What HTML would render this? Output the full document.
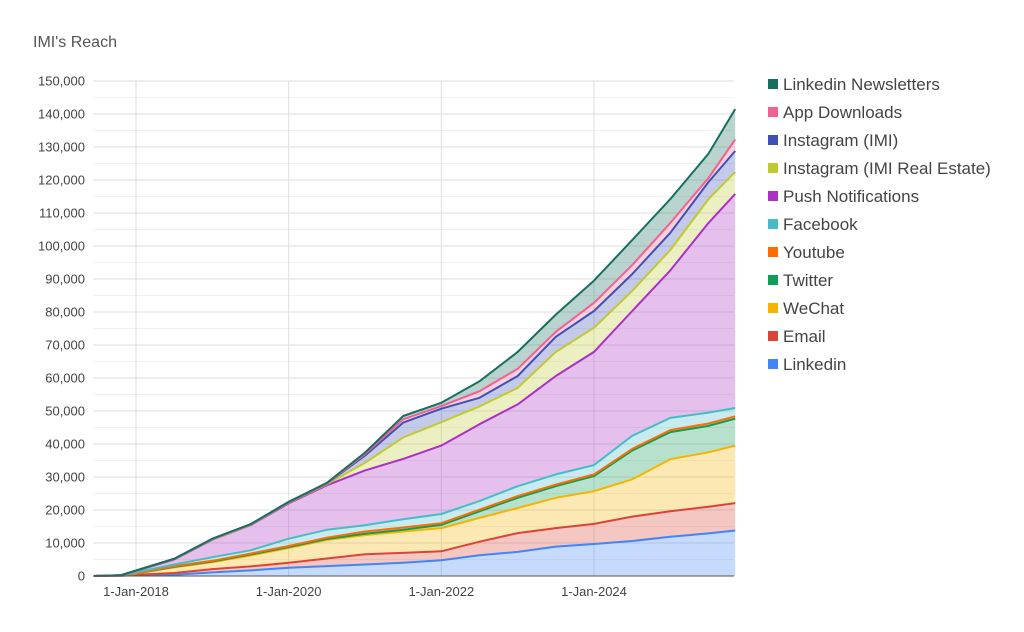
<!DOCTYPE html>
<html><head><meta charset="utf-8"><style>
body{margin:0;background:#fff;font-family:"Liberation Sans",Arial,sans-serif;}
svg{display:block}
</style></head><body>
<svg id="chart" width="1024" height="632" viewBox="0 0 1024 632">
<text x="33" y="47" font-size="16" fill="#555">IMI's Reach</text>
<g id="grid"></g><g id="areas"></g><g id="lines"></g><g id="axes"></g><g id="legend"></g>
</svg>
<script>
const times=[2017.45,2017.8,2018,2018.5,2019,2019.5,2020,2020.5,2021,2021.5,2022,2022.5,2023,2023.5,2024,2024.5,2025,2025.5,2025.85];
const seriesNames=["Linkedin","Email","WeChat","Twitter","Youtube","Facebook","Push Notifications","Instagram (IMI Real Estate)","Instagram (IMI)","App Downloads","Linkedin Newsletters"];
const linkedin=[0,50,200,400,1100,1700,2500,3000,3500,4000,4800,6300,7300,8900,9700,10600,11900,12900,13800];
const email=[0,50,200,500,1000,1200,1500,2300,3100,3000,2700,4100,5700,5600,6100,7400,7700,8100,8300];
const wechat=[0,50,300,1700,2100,3300,4500,5600,5800,6500,7000,7200,7600,9200,9900,11300,15800,16500,17400];
const twitter=[0,10,50,200,200,300,300,300,400,500,1000,2000,3100,3500,4600,8700,8200,8000,8200];
const youtube=[0,10,50,200,200,300,300,400,700,700,500,500,500,500,500,500,600,700,700];
const facebook=[0,20,300,500,1100,1000,2200,2400,1900,2500,2800,2600,3000,3100,2800,4000,3700,3300,2500];
const push=[0,10,400,1500,5300,7600,10700,13500,16600,18300,20700,23300,24800,29800,34300,37800,44700,57500,64900];
const instaRE=[0,5,50,100,100,100,200,300,2300,6500,7100,5400,5000,7300,7300,6100,6200,7200,6600];
const instaIMI=[0,5,50,50,100,100,100,200,2200,4500,4100,2600,3600,4600,5100,5100,5200,5200,6400];
const appDownloads=[0,5,50,50,50,50,100,100,500,1000,800,2000,2200,1500,2500,2700,3000,1200,3500];
const newsletters=[0,5,50,50,50,50,100,100,400,1000,1000,3000,5100,5200,6700,7600,7200,7400,9200];
const yTicks=[0,10000,20000,30000,40000,50000,60000,70000,80000,90000,100000,110000,120000,130000,140000,150000];
const xTickYears=[2018,2020,2022,2024];
const xTickLabels=["1-Jan-2018","1-Jan-2020","1-Jan-2022","1-Jan-2024"];

const series=[linkedin,email,wechat,twitter,youtube,facebook,push,instaRE,instaIMI,appDownloads,newsletters];
const colors=["#4285f4","#db4437","#f4b400","#0f9d58","#ff6d01","#46bdc6","#ab30c4","#c0ca33","#3f51b5","#f06292","#17705f"];
const X0=93,X1=734,Y0=576,Y1=81;
const xs=t=>136+(t-2018)*(594-136)/6;
const ys=v=>Y0-(v/150000)*(Y0-Y1);
const NS="http://www.w3.org/2000/svg";
function mk(tag,attrs,parent){const e=document.createElementNS(NS,tag);for(const k in attrs)e.setAttribute(k,attrs[k]);parent.appendChild(e);return e;}
const grid=document.getElementById('grid'),axes=document.getElementById('axes');
for(let v=5000;v<=150000;v+=10000){const l=mk('line',{x1:X0,x2:X1,y1:ys(v),y2:ys(v),stroke:'#f1f1f1','stroke-width':1},grid);

}
yTicks.forEach(v=>{if(v>0){const l=mk('line',{x1:X0,x2:X1,y1:ys(v),y2:ys(v),stroke:'#dedede','stroke-width':1},grid);

}
const t=mk('text',{x:85,y:ys(v)+4.5,'text-anchor':'end','font-size':13,fill:'#444'},axes);t.textContent=v.toLocaleString('en-US');

});
xTickYears.forEach((yr,i)=>{const l=mk('line',{x1:xs(yr),x2:xs(yr),y1:Y1,y2:Y0,stroke:'#dedede','stroke-width':1},grid);


const t=mk('text',{x:xs(yr),y:596,'text-anchor':'middle','font-size':13,fill:'#444'},axes);t.textContent=xTickLabels[i];

});
const ax=mk('line',{x1:X0,x2:X1,y1:Y0,y2:Y0,stroke:'#555','stroke-width':1},axes);


let base=times.map(()=>0);
const areas=document.getElementById('areas'),lines=document.getElementById('lines');
series.forEach((s,i)=>{const top=base.map((b,j)=>b+s[j]);
const up=times.map((t,j)=>xs(t).toFixed(1)+','+ys(top[j]).toFixed(1));
const down=times.map((t,j)=>xs(t).toFixed(1)+','+ys(base[j]).toFixed(1)).reverse();
const a=mk('polygon',{points:up.concat(down).join(' '),fill:colors[i],'fill-opacity':0.3},areas);


const l=mk('polyline',{points:up.join(' '),fill:'none',stroke:colors[i],'stroke-width':2,'stroke-linejoin':'round'},lines);


base=top;});
const lg=document.getElementById('legend');
for(let i=series.length-1,k=0;i>=0;i--,k++){const y=84+k*28;
const g=mk('g',{},lg);


mk('rect',{x:768,y:y-5,width:10,height:10,fill:colors[i]},g);
const t=mk('text',{x:783,y:y+6,'font-size':17,fill:'#444'},g);t.textContent=seriesNames[i];}
</script>
</body></html>
